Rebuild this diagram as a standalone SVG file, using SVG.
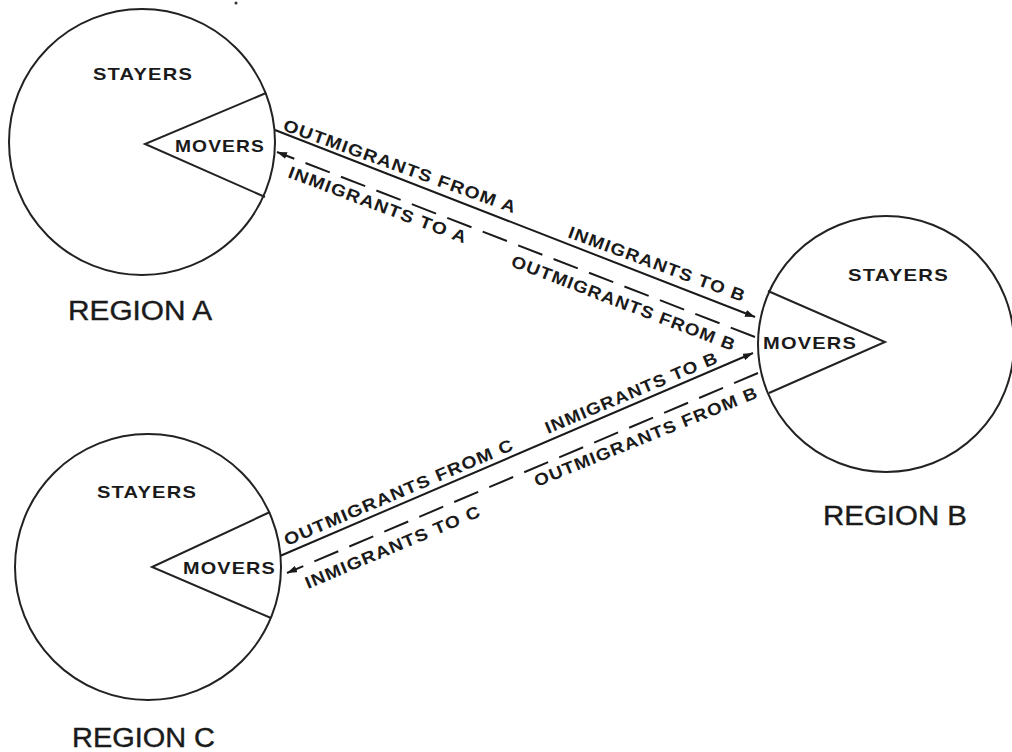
<svg xmlns="http://www.w3.org/2000/svg" width="1012" height="752" viewBox="0 0 1012 752">
<style>
.c{fill:none;stroke:#222;stroke-width:2}
.w{fill:none;stroke:#222;stroke-width:2;stroke-linejoin:miter}
.ln{fill:none;stroke:#1a1a1a;stroke-width:2}
.dl{fill:none;stroke:#1a1a1a;stroke-width:2;stroke-dasharray:26 12}
.n{font-family:"Liberation Sans",Arial,sans-serif;font-weight:bold;font-size:17px;letter-spacing:1px;fill:#1a1a1a}
.r{font-family:"Liberation Sans",Arial,sans-serif;font-size:27px;fill:#1a1a1a;stroke:#1a1a1a;stroke-width:0.4}
.l{font-family:"Liberation Sans",Arial,sans-serif;font-weight:bold;font-size:17px;letter-spacing:1px;fill:#1a1a1a}
</style>
<defs>
<marker id="ah" markerUnits="userSpaceOnUse" markerWidth="10" markerHeight="7" refX="10" refY="3.5" orient="auto">
<path d="M0,0 L10,3.5 L0,7 z" fill="#1a1a1a"/>
</marker>
</defs>
<rect width="1012" height="752" fill="#fff"/>
<circle cx="236" cy="3" r="1.5" fill="#333"/>

<g id="regionA">
<circle class="c" cx="142" cy="142" r="133"/>
<polyline class="w" points="266,93 145,144 265,197"/>
<text class="n" x="93" y="80" textLength="100" lengthAdjust="spacingAndGlyphs">STAYERS</text>
<text class="n" x="175" y="152" textLength="90" lengthAdjust="spacingAndGlyphs">MOVERS</text>
<text class="r" x="68" y="320" textLength="144" lengthAdjust="spacingAndGlyphs">REGION A</text>
</g>

<g id="regionB">
<circle class="c" cx="886" cy="344" r="128"/>
<polyline class="w" points="768,291 885,342 769,393"/>
<text class="n" x="848" y="281" textLength="101" lengthAdjust="spacingAndGlyphs">STAYERS</text>
<text class="n" x="763" y="349" textLength="94" lengthAdjust="spacingAndGlyphs">MOVERS</text>
<text class="r" x="823" y="525" textLength="144" lengthAdjust="spacingAndGlyphs">REGION B</text>
</g>

<g id="regionC">
<circle class="c" cx="148" cy="567" r="133"/>
<polyline class="w" points="270,512 152,567 271,618"/>
<text class="n" x="97" y="498" textLength="100" lengthAdjust="spacingAndGlyphs">STAYERS</text>
<text class="n" x="183" y="574" textLength="93" lengthAdjust="spacingAndGlyphs">MOVERS</text>
<text class="r" x="72" y="747" textLength="143" lengthAdjust="spacingAndGlyphs">REGION C</text>
</g>

<g id="connectors">
<line class="ln" x1="275" y1="130" x2="755" y2="317" marker-end="url(#ah)"/>
<line class="dl" x1="755" y1="337" x2="277" y2="152" marker-end="url(#ah)"/>
<line class="ln" x1="280" y1="556" x2="753" y2="353" marker-end="url(#ah)"/>
<line class="dl" x1="758" y1="373" x2="287" y2="573" marker-end="url(#ah)"/>

<text class="l" transform="translate(282,130) rotate(19.8)" textLength="247" lengthAdjust="spacingAndGlyphs">OUTMIGRANTS FROM A</text>
<text class="l" transform="translate(567,237) rotate(20.3)" textLength="188" lengthAdjust="spacingAndGlyphs">INMIGRANTS TO B</text>
<text class="l" transform="translate(287,177) rotate(20.6)" textLength="190" lengthAdjust="spacingAndGlyphs">INMIGRANTS TO A</text>
<text class="l" transform="translate(510,266) rotate(20.9)" textLength="239" lengthAdjust="spacingAndGlyphs">OUTMIGRANTS FROM B</text>

<text class="l" transform="translate(287,546) rotate(-23)" textLength="248" lengthAdjust="spacingAndGlyphs">OUTMIGRANTS FROM C</text>
<text class="l" transform="translate(548,434) rotate(-22.8)" textLength="186" lengthAdjust="spacingAndGlyphs">INMIGRANTS TO B</text>
<text class="l" transform="translate(308,589) rotate(-22.8)" textLength="189" lengthAdjust="spacingAndGlyphs">INMIGRANTS TO C</text>
<text class="l" transform="translate(537,487) rotate(-22)" textLength="240" lengthAdjust="spacingAndGlyphs">OUTMIGRANTS FROM B</text>
</g>
</svg>
